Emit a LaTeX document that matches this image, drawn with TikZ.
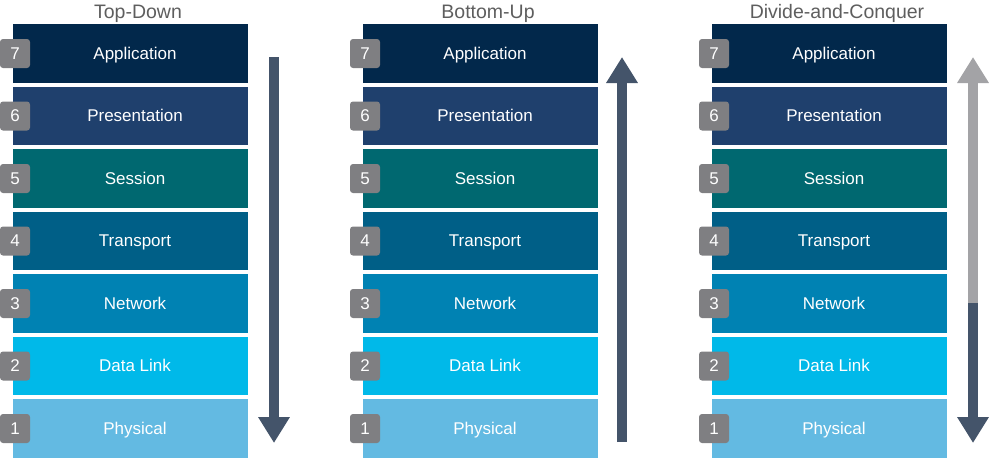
\documentclass[tikz,border=0pt]{standalone}
\usepackage{fontspec}
\setmainfont{Liberation Sans}
\usetikzlibrary{arrows.meta}
\definecolor{layerSeven}{HTML}{02284B}
\definecolor{layerSix}{HTML}{1F406D}
\definecolor{layerFive}{HTML}{006870}
\definecolor{layerFour}{HTML}{005F87}
\definecolor{layerThree}{HTML}{0082B3}
\definecolor{layerTwo}{HTML}{00B9E9}
\definecolor{layerOne}{HTML}{63BAE2}
\definecolor{badgeGray}{HTML}{7F7F82}
\definecolor{titleGray}{HTML}{5E5E5E}
\definecolor{arrowDark}{HTML}{44546A}
\definecolor{arrowLight}{HTML}{A3A3A6}
\begin{document}
\begin{tikzpicture}[x=1pt,y=-1pt,
  layerbox/.style={draw=none, minimum width=235pt, minimum height=58.5pt,
    inner sep=0pt, anchor=north west},
  layertext/.style={text=white, font=\fontsize{17}{20}\selectfont, inner sep=0pt,
    text height=12pt, text depth=1pt},
  badge/.style={fill=badgeGray, rounded corners=3pt, minimum width=30pt,
    minimum height=29pt, inner sep=0pt, text=white, font=\fontsize{17}{20}\selectfont,
    text height=12pt, text depth=1pt},
  coltitle/.style={text=titleGray, font=\fontsize{19.5}{22}\selectfont, inner sep=0pt,
    text height=14pt, text depth=1pt},
  flow/.style={line width=10pt, -{Triangle[width=30pt,length=26pt]}}]
\useasboundingbox (0,0) rectangle (992,458);

\foreach \c/\ox/\ttl in {1/0/Top-Down, 2/350/Bottom-Up, 3/699/Divide-and-Conquer}{
  \node[coltitle] (title\c) at (\ox+138,11.5) {\ttl};
  \foreach \n/\lab/\col [count=\i from 0] in {7/Application/layerSeven,
      6/Presentation/layerSix, 5/Session/layerFive, 4/Transport/layerFour,
      3/Network/layerThree, 2/Data Link/layerTwo, 1/Physical/layerOne}{
    \node[layerbox, fill=\col] (L\c-\n) at (\ox+13,24+62.5*\i) {};
    \node[layertext] (T\c-\n) at (\ox+135,53.5+62.5*\i) {\lab};
    \node[badge] (B\c-\n) at (\ox+15,53.5+62.5*\i) {\n};
  }
}

% direction arrows beside each stack
\coordinate (tdTop) at (274,57);
\coordinate (tdEnd) at (274,443);
\draw[flow, arrowDark] (tdTop) -- (tdEnd);

\coordinate (buTop) at (622,57);
\coordinate (buEnd) at (622,442);
\draw[flow, arrowDark] (buEnd) -- (buTop);

\coordinate (dcMid) at (973,303);
\coordinate (dcTop) at (973,57);
\coordinate (dcEnd) at (973,443);
\draw[flow, arrowLight] (dcMid) -- (dcTop);
\draw[flow, arrowDark] (dcMid) -- (dcEnd);
\end{tikzpicture}
\end{document}
